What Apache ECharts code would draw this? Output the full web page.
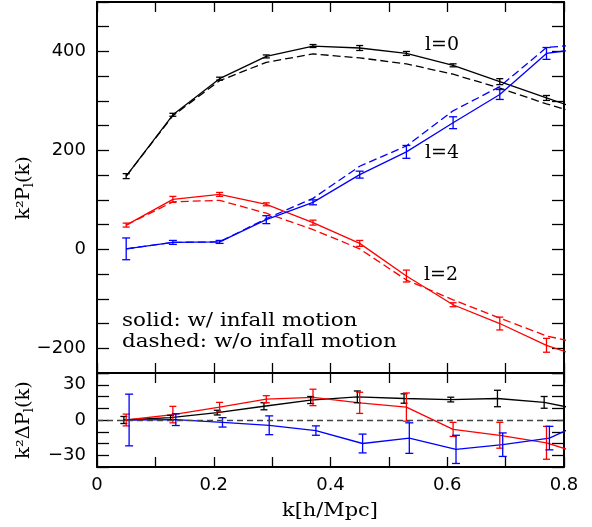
<!DOCTYPE html>
<html>
<head>
<meta charset="utf-8">
<script src="https://cdn.jsdelivr.net/npm/echarts@6/dist/echarts.min.js"></script>
<style>html,body{margin:0;padding:0;background:#fff}#c{width:592px;height:527px}</style>
</head>
<body>
<div id="c"></div>
<script>
// ---- data ----
const kTop = [0.05, 0.13, 0.21, 0.29, 0.37, 0.45, 0.53, 0.61, 0.69, 0.77, 0.85];
const P0solid  = [148, 272, 345, 390, 411, 407, 396, 372, 339, 306, 274];
const P0dashed = [148, 270, 341, 378, 395, 387, 375, 354, 326, 294, 267];
const P0err    = [5, 3, 3, 3, 3, 5, 4, 3, 6, 5];
const P2solid  = [49, 101, 111, 91, 54, 12, -54, -112, -150, -194, -226];
const P2dashed = [49, 96, 99, 73, 40, 1, -62, -102, -139, -175, -196];
const P2err    = [4, 6, 4, 3, 5, 6, 12, 4, 13, 14];
const P4solid  = [1, 14, 15, 60, 95, 151, 197, 256, 313, 396, 409];
const P4dashed = [1, 14, 15, 62, 103, 168, 209, 280, 329, 408, 416];
const P4err    = [22, 4, 3, 8, 5, 7, 13, 12, 10, 12];

const kBot0 = [0.046, 0.126, 0.206, 0.286, 0.366, 0.446, 0.526, 0.606, 0.686, 0.766, 0.846];
const kBot2 = [0.05, 0.13, 0.21, 0.29, 0.37, 0.45, 0.53, 0.61, 0.69, 0.77, 0.85];
const kBot4 = [0.055, 0.135, 0.215, 0.295, 0.375, 0.455, 0.535, 0.615, 0.695, 0.775, 0.855];
const dP0    = [0, 2, 6.3, 11.7, 17, 19.7, 18.3, 17.4, 18.3, 15, 7];
const dP0err = [3, 2, 2, 3, 3, 5, 4, 2, 7, 5];
const dP2    = [0, 4.6, 11, 17.7, 19.2, 14.6, 11, -8, -13, -19.4, -32];
const dP2err = [5, 7, 4, 3, 7, 9, 12, 6, 11, 14];
const dP4    = [0, 0.3, -2, -4.5, -9, -20, -15.4, -25, -21, -15.4, 3];
const dP4err = [22, 5, 4, 8, 4, 8, 13, 12, 10, 10];

const xTicks = [0, 0.2, 0.4, 0.6, 0.8];
const xTickLabels = ['0', '0.2', '0.4', '0.6', '0.8'];
const yTopTicks = [-200, 0, 200, 400];
const yTopTickLabels = ['\u2212200', '0', '200', '400'];
const yBotTicks = [-30, 0, 30];
const yBotTickLabels = ['\u221230', '0', '30'];

// ---- helpers ----
const BLACK = '#000000', RED = '#ff0000', BLUE = '#0000ff';
function fmt(ticks, labels) {
  return function (v) {
    const i = ticks.findIndex(t => Math.abs(t - v) < 1e-6);
    return i >= 0 ? labels[i] : '';
  };
}
function pts(xs, ys) { return ys.map((y, i) => [xs[i], y]); }
function errData(xs, ys, es) { return es.map((e, i) => [xs[i], ys[i] - e, ys[i] + e]); }
function lineS(xs, ys, color, dashed, ai) {
  return {
    type: 'line', xAxisIndex: ai, yAxisIndex: ai, data: pts(xs, ys),
    showSymbol: false, symbol: 'none', clip: true, animation: false, silent: true,
    lineStyle: { color: color, width: 1.3, type: dashed ? [8, 4] : 'solid' }, z: 3
  };
}
function errS(xs, ys, es, color, ai, cap) {
  return {
    type: 'custom', xAxisIndex: ai, yAxisIndex: ai, data: errData(xs, ys, es),
    encode: { x: 0, y: [1, 2] }, animation: false, silent: true, z: 4,
    renderItem: function (params, api) {
      const a = api.coord([api.value(0), api.value(1)]);
      const b = api.coord([api.value(0), api.value(2)]);
      const st = { stroke: color, lineWidth: 1.3 };
      return { type: 'group', children: [
        { type: 'line', shape: { x1: a[0], y1: a[1], x2: b[0], y2: b[1] }, style: st },
        { type: 'line', shape: { x1: a[0] - cap, y1: a[1], x2: a[0] + cap, y2: a[1] }, style: st },
        { type: 'line', shape: { x1: b[0] - cap, y1: b[1], x2: b[0] + cap, y2: b[1] }, style: st }
      ]};
    }
  };
}
const tickStyle = { color: '#000', width: 1.3 };
const lineStyle = { color: '#000', width: 2 };
const numFont = { color: '#000', fontFamily: 'DejaVu Sans', fontSize: 18 };
function xAx(grid, pos, labels) {
  return {
    gridIndex: grid, type: 'value', min: 0, max: 0.8, interval: 0.1, position: pos,
    axisLine: { show: true, onZero: false, lineStyle: lineStyle },
    axisTick: { show: true, inside: true, length: 10, lineStyle: tickStyle },
    axisLabel: labels ? Object.assign({ show: true, margin: 9, formatter: fmt(xTicks, xTickLabels), showMinLabel: true, showMaxLabel: true }, numFont) : { show: false },
    splitLine: { show: false }
  };
}
function yAx(grid, pos, min, max, interval, ticks, labels, len) {
  return {
    gridIndex: grid, type: 'value', min: min, max: max, interval: interval, position: pos,
    axisLine: { show: true, onZero: false, lineStyle: lineStyle },
    axisTick: { show: true, inside: true, length: len, lineStyle: tickStyle },
    axisLabel: ticks ? Object.assign({ show: true, margin: 11, formatter: fmt(ticks, labels), showMinLabel: true, showMaxLabel: true }, numFont) : { show: false },
    splitLine: { show: false }
  };
}
const serif = 'DejaVu Serif';
function txt(str, x, y, size, align, sx) {
  return {
    type: 'text', x: x, y: y, scaleX: sx || 1, silent: true,
    style: { text: str, fill: '#000', font: size + 'px "' + serif + '"', fontFamily: serif, fontSize: size,
             textAlign: align, textVerticalAlign: 'middle', align: align, verticalAlign: 'middle' }
  };
}
function yTitle(main1, main2, x, y) {
  return {
    type: 'text', x: x, y: y, rotation: Math.PI / 2, scaleX: 1.08, silent: true,
    style: {
      text: '{a|' + main1 + '}{s|l}{a|' + main2 + '}',
      textAlign: 'center', textVerticalAlign: 'middle', align: 'center', verticalAlign: 'middle',
      rich: {
        a: { fontFamily: serif, fontSize: 18, fill: '#000', lineHeight: 24, verticalAlign: 'middle' },
        s: { fontFamily: serif, fontSize: 12, fill: '#000', lineHeight: 24, verticalAlign: 'bottom', padding: [10, 0, 0, 0] }
      }
    }
  };
}

const chart = echarts.init(document.getElementById('c'), null, { renderer: 'canvas' });
chart.setOption({
  animation: false,
  backgroundColor: '#fff',
  grid: [
    { left: 97, top: 2, width: 467, height: 371 },
    { left: 97, top: 373, width: 467, height: 94 }
  ],
  xAxis: [xAx(0, 'bottom', false), xAx(0, 'top', false), xAx(1, 'bottom', true), xAx(1, 'top', false)],
  yAxis: [
    yAx(0, 'left', -250, 500, 50, yTopTicks, yTopTickLabels, 12),
    yAx(0, 'right', -250, 500, 50, null, null, 12),
    yAx(1, 'left', -40, 40, 10, yBotTicks, yBotTickLabels, 12),
    yAx(1, 'right', -40, 40, 10, null, null, 12)
  ],
  series: [
    lineS(kTop, P0dashed, BLACK, true, 0),
    lineS(kTop, P2dashed, RED, true, 0),
    lineS(kTop, P4dashed, BLUE, true, 0),
    lineS(kTop, P0solid, BLACK, false, 0),
    lineS(kTop, P2solid, RED, false, 0),
    lineS(kTop, P4solid, BLUE, false, 0),
    errS(kTop, P0solid, P0err, BLACK, 0, 3.5),
    errS(kTop, P2solid, P2err, RED, 0, 3.5),
    errS(kTop, P4solid, P4err, BLUE, 0, 4),
    Object.assign(lineS(kBot0, dP0, BLACK, false, 2), {
      markLine: { silent: true, symbol: 'none', animation: false, label: { show: false },
        lineStyle: { color: '#444', type: [6, 4], width: 1.3 }, data: [{ yAxis: 0 }] }
    }),
    lineS(kBot2, dP2, RED, false, 2),
    lineS(kBot4, dP4, BLUE, false, 2),
    errS(kBot0, dP0, dP0err, BLACK, 2, 3.5),
    errS(kBot2, dP2, dP2err, RED, 2, 3.5),
    errS(kBot4, dP4, dP4err, BLUE, 2, 4)
  ],
  graphic: [
    txt('l=0', 425, 45, 19, 'left', 1),
    txt('l=4', 425, 153, 19, 'left', 1),
    txt('l=2', 424, 275, 19, 'left', 1),
    txt('solid: w/ infall motion', 122, 321, 19, 'left', 1.13),
    txt('dashed: w/o infall motion', 122, 342, 19, 'left', 1.13),
    txt('k[h/Mpc]', 330, 511, 19, 'center', 1.1),
    yTitle('k\u00b2P', '(k)', 24, 188),
    yTitle('k\u00b2\u0394P', '(k)', 24, 420)
  ]
});
</script>
</body>
</html>
